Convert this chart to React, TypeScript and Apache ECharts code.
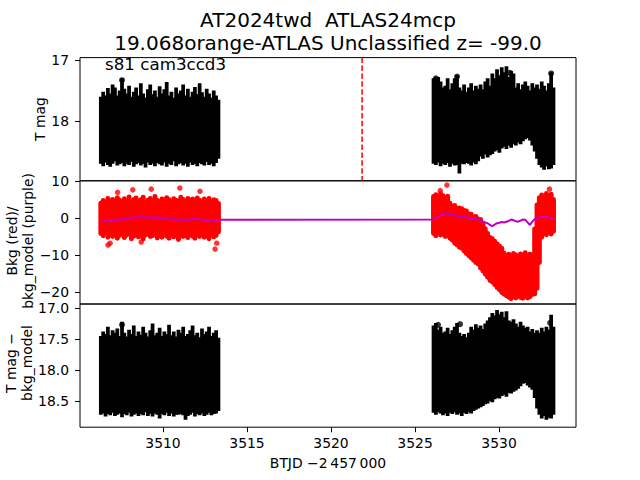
import React, { useEffect, useRef } from 'react';
import * as echarts from 'echarts';

// ---- axes / layout constants (values, not marks) ----
const CADENCE = 0.14;
const LEFT_START = 3506.3;
const RIGHT_START = 3526.1;
const X_MIN = 3505.06;
const X_MAX = 3534.58;
const X_TICKS = [3510, 3515, 3520, 3525, 3530];
const TOP_TICKS = [17, 18];
const MID_TICKS = [-20, -10, 0, 10];
const BOT_TICKS = [17, 17.5, 18, 18.5];
const DISCOVERY_T = 3521.85;

// ---- Panel 1: T mag error bars (bright bound / faint bound) ----
const TOP_L_BRIGHT = [
  17.60, 17.52, 17.58, 17.46, 17.55, 17.40, 17.45, 17.58, 17.50, 17.30,
  17.47, 17.55, 17.42, 17.60, 17.52, 17.45, 17.58, 17.38, 17.55, 17.62,
  17.48, 17.40, 17.56, 17.50, 17.60, 17.43, 17.55, 17.48, 17.36, 17.58,
  17.52, 17.62, 17.45, 17.55, 17.50, 17.40, 17.58, 17.47, 17.60, 17.52,
  17.44, 17.56, 17.38, 17.53, 17.60, 17.47, 17.55, 17.62, 17.50, 17.58,
  17.65,
];
const TOP_L_FAINT = [
  18.70, 18.74, 18.68, 18.72, 18.75, 18.70, 18.66, 18.73, 18.71, 18.69,
  18.74, 18.70, 18.72, 18.67, 18.75, 18.71, 18.69, 18.73, 18.70, 18.76,
  18.68, 18.72, 18.70, 18.74, 18.69, 18.71, 18.73, 18.68, 18.75, 18.70,
  18.72, 18.66, 18.74, 18.71, 18.69, 18.73, 18.70, 18.75, 18.68, 18.72,
  18.70, 18.74, 18.69, 18.71, 18.73, 18.67, 18.72, 18.70, 18.74, 18.69,
  18.62,
];
const TOP_R_BRIGHT = [
  17.30, 17.28, 17.28, 17.35, 17.45, 17.42, 17.30, 17.48, 17.38, 17.30,
  17.25, 17.45, 17.50, 17.40, 17.52, 17.45, 17.38, 17.50, 17.42, 17.47,
  17.40, 17.48, 17.35, 17.30, 17.42, 17.22, 17.30, 17.15, 17.25, 17.12,
  17.20, 17.10, 17.28, 17.18, 17.22, 17.45, 17.38, 17.48, 17.40, 17.35,
  17.42, 17.50, 17.38, 17.45, 17.40, 17.47, 17.35, 17.42, 17.50, 17.38,
  17.20, 17.45,
];
const TOP_R_FAINT = [
  18.70, 18.72, 18.68, 18.74, 18.70, 18.72, 18.69, 18.75, 18.70, 18.73,
  18.72, 18.86, 18.70, 18.71, 18.69, 18.70, 18.73, 18.68, 18.71, 18.66,
  18.58, 18.62, 18.55, 18.60, 18.56, 18.54, 18.50, 18.48, 18.52, 18.45,
  18.42, 18.46, 18.40, 18.44, 18.38, 18.40, 18.35, 18.38, 18.33, 18.30,
  18.28, 18.32, 18.40, 18.50, 18.62, 18.72, 18.76, 18.80, 18.74, 18.79,
  18.78, 18.72,
];
const TOP_DOTS = [
  [3507.56, 17.33], [3526.24, 17.30], [3527.5, 17.27], [3530.65, 17.21], [3533.1, 17.22],
];

// ---- Panel 2: background (red envelope) and background model (purple) ----
const RED_L_HI = [
  4.0, 4.7, 4.3, 5.3, 4.5, 5.0, 4.1, 5.5, 4.8, 4.4,
  5.2, 4.6, 5.7, 4.3, 5.0, 5.4, 4.5, 4.9, 5.6, 4.2,
  4.8, 5.3, 4.5, 5.8, 4.7, 4.4, 5.1, 4.6, 5.5, 4.9,
  4.3, 5.2, 4.8, 4.5, 5.6, 5.0, 4.4, 5.3, 4.7, 5.1,
  4.5, 5.4, 4.8, 4.2, 5.1, 4.6, 5.3, 4.4, 4.9, 4.7,
  3.9,
];
const RED_L_LO = [
  -4.2, -4.8, -3.9, -5.2, -4.5, -5.0, -4.3, -5.5, -4.7, -4.1,
  -5.3, -4.6, -4.0, -5.6, -4.9, -4.4, -5.1, -4.2, -5.7, -4.6,
  -4.3, -5.0, -4.8, -4.1, -5.4, -4.7, -5.2, -4.0, -4.9, -5.5,
  -4.4, -5.1, -4.6, -5.8, -4.3, -5.0, -4.7, -5.3, -4.2, -4.9,
  -5.5, -4.5, -5.0, -4.3, -5.2, -4.8, -5.6, -4.4, -5.1, -4.7,
  -3.8,
];
const RED_R_HI = [
  5.8, 6.3, 5.5, 6.6, 6.0, 5.4, 5.9, 4.0, 3.2, 3.4,
  2.6, 2.7, 2.5, 2.0, 1.9, 1.1, 1.0, 0.3, 0.4, -0.3,
  -0.4, -1.7, -2.9, -4.2, -5.3, -5.6, -6.3, -7.0, -7.6, -8.2,
  -9.5, -10.2, -9.8, -10.5, -9.6, -10.0, -10.4, -9.7, -10.1, -9.4,
  -10.3, -9.8, -10.0, -3.0, 3.5, 5.5, 6.2, 5.5, 6.6, 5.9,
  6.4, 5.0,
];
const RED_R_LO = [
  -4.2, -4.8, -4.0, -4.6, -4.3, -5.0, -4.8, -5.5, -6.0, -6.8,
  -7.3, -7.9, -8.2, -8.9, -9.6, -10.2, -10.8, -11.4, -12.0, -12.4,
  -13.5, -14.3, -15.2, -16.0, -16.9, -17.3, -18.0, -18.8, -19.4, -20.1,
  -20.6, -21.0, -21.4, -21.8, -21.2, -21.6, -20.8, -21.5, -21.7, -21.0,
  -21.6, -21.3, -20.7, -20.5, -19.0, -12.0, -5.2, -4.2, -4.5, -3.9,
  -4.3, -3.6,
];
const RED_OUTLIERS = [
  [3506.73, -7.3], [3506.85, -6.8], [3507.3, 6.9], [3508.2, 7.6], [3508.7, -6.5],
  [3509.3, 7.8], [3511.0, 8.1], [3512.2, 7.2], [3513.1, -8.4], [3513.2, -6.8],
  [3526.5, 7.4], [3526.9, 8.9], [3533.0, 7.8],
];
const MODEL_L = [
  -1.0, -0.9, -0.7, -0.8, -0.6, -0.5, -0.6, -0.4, -0.5, -0.3,
  -0.4, -0.2, -0.1, 0.0, 0.2, 0.3, 0.1, 0.4, 0.2, 0.1,
  0.3, 0.0, 0.1, -0.1, 0.2, 0.0, -0.2, 0.1, -0.1, -0.3,
  -0.2, -0.5, -0.4, -0.6, -0.3, -0.5, -0.4, -0.6, -0.3, -0.4,
  -0.2, -0.1, -0.3, -0.5, -0.4, -0.7, -0.8, -0.6, -0.5, -0.6,
  -0.5,
];
const MODEL_R = [
  -0.4, 0.0, 0.5, 0.8, 1.0, 1.2, 1.3, 1.1, 0.9, 0.8,
  0.6, 0.5, 0.4, 0.2, 0.3, 0.0, -0.1, 0.0, -0.3, -0.4,
  -0.5, -0.9, -1.2, -1.4, -1.9, -2.2, -1.8, -1.4, -1.3, -1.1,
  -1.2, -1.0, -0.8, -0.4, -0.6, -0.9, -1.0, -0.7, -0.4, -0.5,
  -1.2, -1.9, -1.0, -0.3, -0.1, 0.3, 0.4, 0.3, 0.2, 0.3,
  0.0, -0.1,
];

// ---- Panel 3: T mag − bkg_model error bars ----
const BOT_L_BRIGHT = [
  17.45, 17.38, 17.42, 17.30, 17.44, 17.36, 17.40, 17.33, 17.45, 17.22,
  17.40, 17.46, 17.35, 17.42, 17.28, 17.45, 17.38, 17.43, 17.30, 17.40,
  17.46, 17.36, 17.25, 17.44, 17.40, 17.32, 17.45, 17.38, 17.42, 17.27,
  17.44, 17.38, 17.46, 17.35, 17.40, 17.30, 17.45, 17.42, 17.36, 17.28,
  17.44, 17.40, 17.47, 17.33, 17.42, 17.38, 17.30, 17.45, 17.40, 17.36,
  17.48,
];
const BOT_L_FAINT = [
  18.72, 18.70, 18.75, 18.71, 18.73, 18.69, 18.74, 18.72, 18.70, 18.76,
  18.71, 18.73, 18.69, 18.75, 18.72, 18.70, 18.74, 18.71, 18.73, 18.68,
  18.74, 18.71, 18.75, 18.70, 18.72, 18.78, 18.71, 18.73, 18.69, 18.74,
  18.70, 18.75, 18.72, 18.72, 18.71, 18.73, 18.80, 18.74, 18.72, 18.69,
  18.75, 18.71, 18.73, 18.70, 18.74, 18.72, 18.69, 18.73, 18.71, 18.70,
  18.66,
];
const BOT_R_BRIGHT = [
  17.28, 17.24, 17.35, 17.30, 17.40, 17.38, 17.32, 17.42, 17.36, 17.30,
  17.24, 17.40, 17.45, 17.42, 17.47, 17.40, 17.30, 17.35, 17.26, 17.32,
  17.28, 17.34, 17.25, 17.20, 17.15, 17.08, 17.12, 17.03, 17.10, 17.06,
  17.15, 17.05, 17.20, 17.22, 17.18, 17.25, 17.30, 17.22, 17.28, 17.32,
  17.30, 17.38, 17.34, 17.40, 17.36, 17.40, 17.32, 17.38, 17.30, 17.35,
  17.11, 17.30,
];
const BOT_R_FAINT = [
  18.69, 18.72, 18.68, 18.70, 18.73, 18.70, 18.74, 18.69, 18.71, 18.68,
  18.72, 18.70, 18.74, 18.69, 18.71, 18.68, 18.70, 18.66, 18.64, 18.62,
  18.60, 18.58, 18.55, 18.54, 18.50, 18.52, 18.47, 18.45, 18.46, 18.42,
  18.40, 18.43, 18.37, 18.38, 18.35, 18.33, 18.30, 18.26, 18.22, 18.21,
  18.25, 18.28, 18.32, 18.45, 18.62, 18.72, 18.78, 18.74, 18.80, 18.77,
  18.78, 18.72,
];
const BOT_DOTS = [
  [3507.56, 17.27], [3526.37, 17.27], [3527.68, 17.26], [3533.04, 17.24],
];

const FONT = '"DejaVu Sans", "Liberation Sans", sans-serif';

function cadenceTimes(start: number, n: number): number[] {
  return Array.from({ length: n }, (_, i) => Math.round((start + i * CADENCE) * 100) / 100);
}

function ranges(lTimes: number[], rTimes: number[], l1: number[], l2: number[], r1: number[], r2: number[]) {
  const out: number[][] = [];
  lTimes.forEach((t, i) => out.push([t, l1[i], l2[i]]));
  rTimes.forEach((t, i) => out.push([t, r1[i], r2[i]]));
  return out;
}

const fmtMinus = (v: number, d: number) => {
  const s = d > 0 ? v.toFixed(d) : String(Math.round(v));
  return s.replace('-', '\u2212');
};

export default function App() {
  const ref = useRef<HTMLDivElement>(null);
  useEffect(() => {
    if (!ref.current) return;
    const chart = echarts.init(ref.current, null, { renderer: 'svg' });
    const tL = cadenceTimes(LEFT_START, TOP_L_BRIGHT.length);
    const tR = cadenceTimes(RIGHT_START, TOP_R_BRIGHT.length);

    const topData = ranges(tL, tR, TOP_L_BRIGHT, TOP_L_FAINT, TOP_R_BRIGHT, TOP_R_FAINT);
    const botData = ranges(tL, tR, BOT_L_BRIGHT, BOT_L_FAINT, BOT_R_BRIGHT, BOT_R_FAINT);
    const redData = ranges(tL, tR, RED_L_LO, RED_L_HI, RED_R_LO, RED_R_HI);
    const modelData = [
      ...tL.map((t, i) => [t, MODEL_L[i]]),
      ...tR.map((t, i) => [t, MODEL_R[i]]),
    ];

    // filled vertical bar spanning [value(1), value(2)] at time value(0)
    const barRender = (color: string, extraW: number, extraH: number, radius: number) => (params: any, api: any) => {
      const x = api.value(0);
      const p1 = api.coord([x, api.value(1)]);
      const p2 = api.coord([x, api.value(2)]);
      const w = api.size([CADENCE, 0])[0] + extraW;
      const yTop = Math.min(p1[1], p2[1]) - extraH;
      const h = Math.abs(p2[1] - p1[1]) + 2 * extraH;
      return {
        type: 'rect',
        shape: { x: p1[0] - w / 2, y: yTop, width: w, height: h, r: radius },
        style: { fill: color, stroke: null },
      };
    };

    const grids = [
      { left: 80, width: 496, top: 57.6, height: 123.2 },
      { left: 80, width: 496, top: 180.8, height: 123.2 },
      { left: 80, width: 496, top: 304, height: 123.2 },
    ].map((g) => ({ ...g, show: true, borderColor: '#000', borderWidth: 1, backgroundColor: 'transparent', containLabel: false }));

    const labelStyle = { color: '#000', fontSize: 13.9, fontFamily: FONT };

    const xAxes = [0, 1, 2].map((i) => ({
      type: 'value',
      gridIndex: i,
      min: X_MIN,
      max: X_MAX,
      axisLine: { show: false },
      splitLine: { show: false },
      axisTick: i === 2
        ? { show: true, length: 5, customValues: X_TICKS, lineStyle: { color: '#000', width: 1 } }
        : { show: false },
      axisLabel: i === 2
        ? { show: true, customValues: X_TICKS, margin: 9, ...labelStyle, formatter: (v: number) => String(v) }
        : { show: false },
    }));

    const yAxis = (i: number, min: number, max: number, ticks: number[], inverse: boolean, dec: number) => ({
      type: 'value',
      gridIndex: i,
      min,
      max,
      inverse,
      axisLine: { show: false },
      splitLine: { show: false },
      axisTick: { show: true, length: 5, customValues: ticks, lineStyle: { color: '#000', width: 1 } },
      axisLabel: { show: true, customValues: ticks, margin: 11, ...labelStyle, formatter: (v: number) => fmtMinus(v, dec) },
    });

    const option: any = {
      animation: false,
      backgroundColor: '#fff',
      grid: grids,
      xAxis: xAxes,
      yAxis: [
        yAxis(0, 16.96, 18.98, TOP_TICKS, true, 0),
        yAxis(1, -23.24, 10.05, MID_TICKS, false, 0),
        yAxis(2, 16.935, 18.922, BOT_TICKS, true, 1),
      ],
      series: [
        {
          type: 'custom', xAxisIndex: 0, yAxisIndex: 0, clip: true, z: 2,
          renderItem: barRender('#000', 1.4, 0, 0), data: topData,
          encode: { x: 0, y: [1, 2] },
        },
        {
          type: 'scatter', xAxisIndex: 0, yAxisIndex: 0, symbolSize: 6, z: 3,
          itemStyle: { color: '#000' }, data: TOP_DOTS,
        },
        {
          type: 'line', xAxisIndex: 0, yAxisIndex: 0, symbol: 'none', z: 4,
          lineStyle: { color: '#ff0000', width: 1.5, type: [5.5, 2.4] },
          data: [[DISCOVERY_T, 16.96], [DISCOVERY_T, 18.98]],
        },
        {
          type: 'custom', xAxisIndex: 1, yAxisIndex: 1, clip: true, z: 2,
          renderItem: barRender('#ff0000', 2.6, 2.5, 2.5), data: redData,
          encode: { x: 0, y: [1, 2] },
        },
        {
          type: 'scatter', xAxisIndex: 1, yAxisIndex: 1, symbolSize: 5.5, z: 3,
          itemStyle: { color: '#ff0000' }, data: RED_OUTLIERS,
        },
        {
          type: 'line', xAxisIndex: 1, yAxisIndex: 1, symbol: 'none', z: 5,
          lineStyle: { color: '#bf00bf', width: 2 }, data: modelData,
        },
        {
          type: 'custom', xAxisIndex: 2, yAxisIndex: 2, clip: true, z: 2,
          renderItem: barRender('#000', 1.4, 0, 0), data: botData,
          encode: { x: 0, y: [1, 2] },
        },
        {
          type: 'scatter', xAxisIndex: 2, yAxisIndex: 2, symbolSize: 6, z: 3,
          itemStyle: { color: '#000' }, data: BOT_DOTS,
        },
      ],
      graphic: [
        {
          type: 'text', x: 328, y: 20, z: 10,
          style: { text: 'AT2024twd  ATLAS24mcp', font: `20px ${FONT}`, fill: '#000', textAlign: 'center', textVerticalAlign: 'middle' },
        },
        {
          type: 'text', x: 328, y: 43, z: 10,
          style: { text: '19.068orange-ATLAS Unclassified z= -99.0', font: `20px ${FONT}`, fill: '#000', textAlign: 'center', textVerticalAlign: 'middle' },
        },
        {
          type: 'text', x: 105, y: 64, z: 10,
          style: { text: 's81 cam3ccd3', font: `16.7px ${FONT}`, fill: '#000', textAlign: 'left', textVerticalAlign: 'middle' },
        },
        {
          type: 'text', x: 40, y: 119, rotation: Math.PI / 2, z: 10,
          style: { text: 'T mag', font: `13.9px ${FONT}`, fill: '#000', textAlign: 'center', textVerticalAlign: 'middle' },
        },
        {
          type: 'text', x: 20, y: 241, rotation: Math.PI / 2, z: 10,
          style: { text: 'Bkg (red)/\nbkg_model (purple)', font: `13.9px ${FONT}`, lineHeight: 16.5, fill: '#000', textAlign: 'center', textVerticalAlign: 'middle' },
        },
        {
          type: 'text', x: 19, y: 363, rotation: Math.PI / 2, z: 10,
          style: { text: 'T mag \u2212\nbkg_model', font: `13.9px ${FONT}`, lineHeight: 16.5, fill: '#000', textAlign: 'center', textVerticalAlign: 'middle' },
        },
        {
          type: 'text', x: 328, y: 463, z: 10,
          style: { text: 'BTJD \u22122\u2009457\u2009000', font: `13.9px ${FONT}`, fill: '#000', textAlign: 'center', textVerticalAlign: 'middle' },
        },
      ],
    };
    chart.setOption(option);
    return () => chart.dispose();
  }, []);
  return (
    <div
      ref={ref}
      style={{ position: 'fixed', left: 0, top: 0, width: 640, height: 480, background: '#fff' }}
    />
  );
}
